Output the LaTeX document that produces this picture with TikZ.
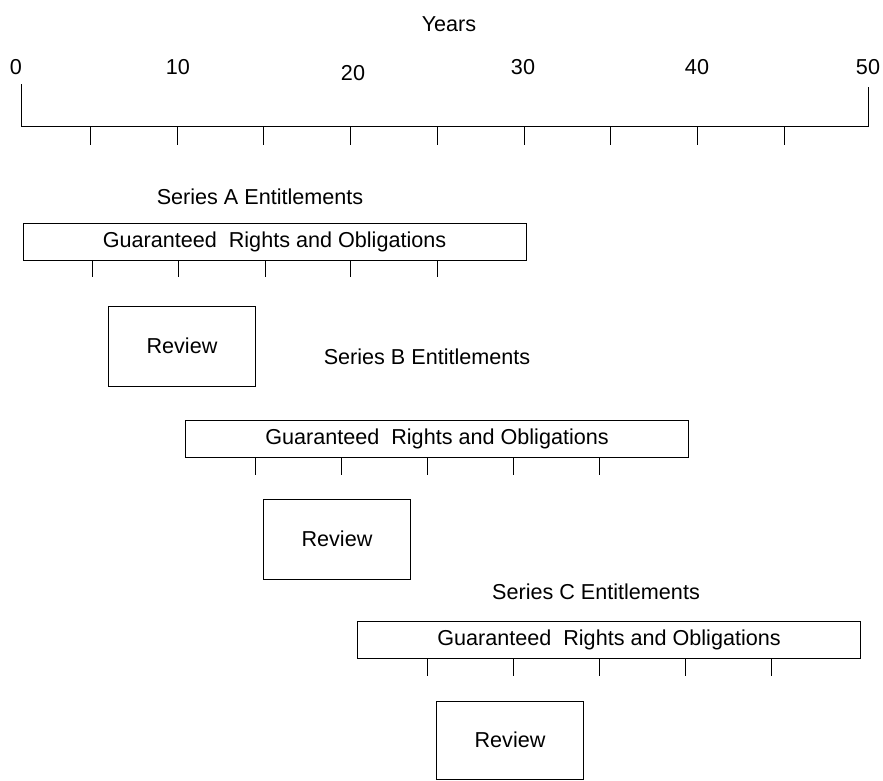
\documentclass[tikz,border=0pt]{standalone}
\usepackage{fontspec}
\setmainfont{Liberation Sans}
\begin{document}
\begin{tikzpicture}[x=1pt,y=-1pt,line width=0.9pt,
  lbl/.style={font=\fontsize{21.6}{24}\selectfont,inner sep=0pt},
  bar/.style={draw,minimum width=503pt,minimum height=37pt,inner sep=0pt,font=\fontsize{21.6}{24}\selectfont},
  revbox/.style={draw,minimum width=147pt,minimum height=80pt,inner sep=0pt,font=\fontsize{21.6}{24}\selectfont},
  tick/.style={line width=0.9pt}]
\useasboundingbox (0,0) rectangle (883,780);
% title and numbers
\node[lbl] (years) at (449,24) {Years};
\node[lbl] (n0) at (16,67) {0};
\node[lbl] (n10) at (178,67) {10};
\node[lbl] (n20) at (353,73) {20};
\node[lbl] (n30) at (523,67) {30};
\node[lbl] (n40) at (697,67) {40};
\node[lbl] (n50) at (868,67) {50};
% axis
\coordinate (axT0) at (21,84);
\coordinate (axL) at (21,126.5);
\coordinate (axR) at (868,126.5);
\coordinate (axT50) at (868,87);
\draw (axT0) -- (axL) -- (axR) -- (axT50);
\foreach \i in {0,...,8} \draw[tick] ({90.5+\i*86.7},126.5) -- ++(0,18);
% Series A
\node[lbl] (serA) at (260,197) {Series A Entitlements};
\node[bar] (barA) at (274.5,241.5) {Guaranteed\ \ Rights and Obligations};
\foreach \x in {92,178,265,350.5,437} \draw[tick] (\x,0 |- barA.south) -- ++(0,17);
\node[revbox] (revA) at (182,346) {Review};
% Series B
\node[lbl] (serB) at (427,357) {Series B Entitlements};
\node[bar] (barB) at (437,439) {Guaranteed\ \ Rights and Obligations};
\foreach \x in {255,341,427,513,599} \draw[tick] (\x,0 |- barB.south) -- ++(0,17);
\node[revbox] (revB) at (337,539) {Review};
% Series C
\node[lbl] (serC) at (596,592) {Series C Entitlements};
\node[bar] (barC) at (609,640) {Guaranteed\ \ Rights and Obligations};
\foreach \x in {427,513,599,685,771} \draw[tick] (\x,0 |- barC.south) -- ++(0,17);
\node[revbox,minimum height=78pt] (revC) at (510,740) {Review};
\end{tikzpicture}
\end{document}
